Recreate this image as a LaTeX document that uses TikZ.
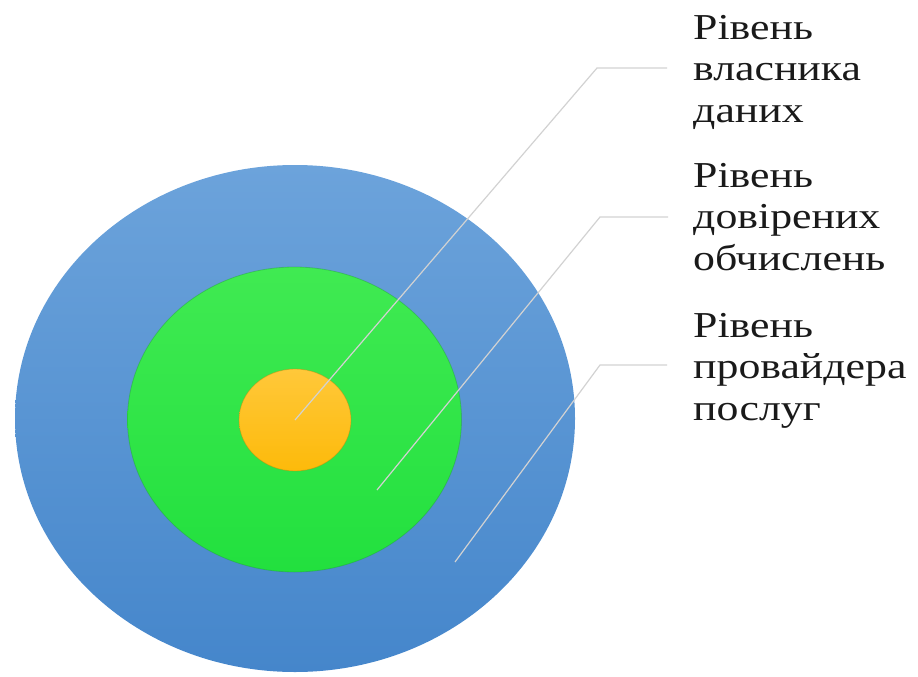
\documentclass[tikz,border=0pt]{standalone}
\usepackage{fontspec}
\setmainfont{Liberation Serif}
\newfontfamily\lblfont[FakeStretch=1.2]{Liberation Serif}
\usetikzlibrary{shapes.geometric}
\definecolor{bluetop}{HTML}{6CA3DB}
\definecolor{bluebot}{HTML}{4586CB}
\definecolor{greentop}{HTML}{40EA52}
\definecolor{greenbot}{HTML}{22E03E}
\definecolor{greenrim}{HTML}{1F9E35}
\definecolor{orangetop}{HTML}{FFC83A}
\definecolor{orangebot}{HTML}{FDBA0A}
\definecolor{orangerim}{HTML}{B8860B}
\definecolor{conncol}{HTML}{D2D2D2}
\definecolor{txt}{HTML}{1A1A1A}
\begin{document}
\begin{tikzpicture}[x=1pt,y=-1pt,
  layer/.style={ellipse, inner sep=0pt, draw=none},
  conn/.style={draw=conncol, line width=1.2pt},
  lbl/.style={anchor=north west, inner sep=0pt, align=left, text=txt,
    font={\lblfont\fontsize{36.5}{41.5}\selectfont}}]
\useasboundingbox (0,0) rectangle (918,677);
% layers
\node[layer, top color=bluetop, bottom color=bluebot,
      minimum width=560pt, minimum height=507pt] (provider) at (295,418.5) {};
\node[layer, top color=greentop, bottom color=greenbot, draw=greenrim, draw opacity=0.4, line width=0.8pt,
      minimum width=334pt, minimum height=305pt] (trusted) at (294.5,419.5) {};
\node[layer, top color=orangetop, bottom color=orangebot, draw=orangerim, draw opacity=0.4, line width=0.8pt,
      minimum width=112pt, minimum height=102pt] (owner) at (295,420) {};
% labels
\node[lbl] (l1) at (693,9)   {\rule{0pt}{30pt}Рівень\\власника\\даних};
\node[lbl] (l2) at (693,157) {\rule{0pt}{30pt}Рівень\\довірених\\обчислень};
\node[lbl] (l3) at (693,307) {\rule{0pt}{30pt}Рівень\\провайдера\\послуг};
% connector points
\coordinate (s1) at (owner.center);
\coordinate (b1) at (597,68);
\coordinate (e1) at (667,68);
\coordinate (s2) at (377,490);
\coordinate (b2) at (600,217);
\coordinate (e2) at (668,217);
\coordinate (s3) at (455,562);
\coordinate (b3) at (600,365);
\coordinate (e3) at (667,365);
\draw[conn] (s1) -- (b1) -- (e1);
\draw[conn] (s2) -- (b2) -- (e2);
\draw[conn] (s3) -- (b3) -- (e3);
\end{tikzpicture}
\end{document}
